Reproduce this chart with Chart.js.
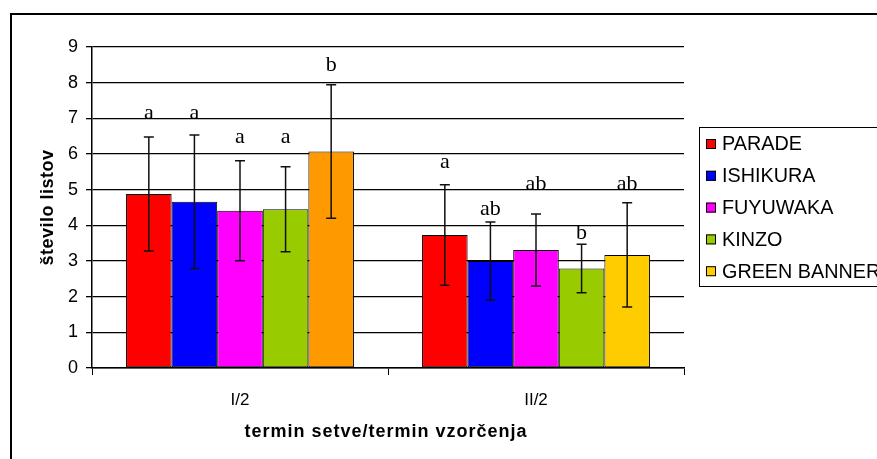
<!DOCTYPE html>
<html><head><meta charset="utf-8">
<script src="https://cdn.jsdelivr.net/npm/chart.js@4/dist/chart.umd.min.js"></script>
<style>html,body{margin:0;padding:0;background:#fff}#wrap{width:877px;height:459px}</style>
</head><body><div id="wrap"><canvas id="c" width="877" height="459"></canvas></div>
<script>
const categories = ['I/2', 'II/2'];
const seriesNames = ['PARADE', 'ISHIKURA', 'FUYUWAKA', 'KINZO', 'GREEN BANNER'];
const parade = [4.88, 3.73];
const ishikura = [4.66, 3.00];
const fuyuwaka = [4.41, 3.31];
const kinzo = [4.45, 2.79];
const greenBanner = [6.07, 3.17];
const paradeSd = [1.60, 1.41];
const ishikuraSd = [1.87, 1.09];
const fuyuwakaSd = [1.40, 1.01];
const kinzoSd = [1.19, 0.68];
const greenBannerSd = [1.87, 1.46];
const paradeLetters = ['a', 'a'];
const ishikuraLetters = ['a', 'ab'];
const fuyuwakaLetters = ['a', 'ab'];
const kinzoLetters = ['a', 'b'];
const greenBannerLetters = ['b', 'ab'];
// vertical position of each letter, in axis units
const paradeLetterAt = [7.13, 5.76];
const ishikuraLetterAt = [7.13, 4.44];
const fuyuwakaLetterAt = [6.46, 5.14];
const kinzoLetterAt = [6.46, 3.77];
const greenBannerLetterAt = [8.50, 5.14];
const yTicks = [0,1,2,3,4,5,6,7,8,9];

const colors = ['#FF0000', '#0000FF', '#FF00FF', '#99CC00', ['#FF9900', '#FFCC00']];
const legendColors = ['#FF0000', '#0000FF', '#FF00FF', '#99CC00', '#FFCC00'];
const values = [parade, ishikura, fuyuwaka, kinzo, greenBanner];
const sds = [paradeSd, ishikuraSd, fuyuwakaSd, kinzoSd, greenBannerSd];
const letters = [paradeLetters, ishikuraLetters, fuyuwakaLetters, kinzoLetters, greenBannerLetters];
const letterAt = [paradeLetterAt, ishikuraLetterAt, fuyuwakaLetterAt, kinzoLetterAt, greenBannerLetterAt];

const datasets = seriesNames.map((n, i) => ({
  label: n, data: values[i], backgroundColor: colors[i],
  borderColor: '#000', borderWidth: 1, borderSkipped: false,
  barPercentage: 1, categoryPercentage: 0.77
}));

const extras = {
  id: 'extras',
  beforeDraw(chart) {
    const ctx = chart.ctx;
    ctx.save();
    ctx.fillStyle = '#fff';
    ctx.fillRect(0, 0, chart.width, chart.height);
    ctx.strokeStyle = '#000';
    ctx.lineWidth = 2;
    ctx.strokeRect(11, 14, 1000, 1000);
    ctx.restore();
  },
  afterDatasetsDraw(chart) {
    const ctx = chart.ctx;
    const ys = chart.scales.y;
    ctx.save();
    chart.data.datasets.forEach((ds, i) => {
      const meta = chart.getDatasetMeta(i);
      meta.data.forEach((bar, j) => {
        const v = values[i][j], s = sds[i][j];
        const yt = ys.getPixelForValue(v + s), yb = ys.getPixelForValue(v - s);
        ctx.strokeStyle = '#111';
        ctx.lineWidth = 1.5;
        ctx.beginPath();
        ctx.moveTo(bar.x, yt); ctx.lineTo(bar.x, yb);
        ctx.moveTo(bar.x - 5, yt); ctx.lineTo(bar.x + 5, yt);
        ctx.moveTo(bar.x - 5, yb); ctx.lineTo(bar.x + 5, yb);
        ctx.stroke();
        ctx.fillStyle = '#000';
        ctx.font = '22px "Liberation Serif", "Times New Roman", serif';
        ctx.textAlign = 'center';
        ctx.textBaseline = 'middle';
        ctx.fillText(letters[i][j], bar.x, ys.getPixelForValue(letterAt[i][j]));
      });
    });
    // axis titles
    ctx.fillStyle = '#000';
    ctx.font = 'bold 18px "Liberation Sans", Arial, sans-serif';
    ctx.textAlign = 'center';
    ctx.textBaseline = 'middle';
    const ca = chart.chartArea;
    ctx.letterSpacing = '1px';
    ctx.fillText('termin setve/termin vzorčenja', 386, 432);
    ctx.letterSpacing = '0.5px';
    ctx.save();
    ctx.translate(48, (ca.top + ca.bottom) / 2);
    ctx.rotate(-Math.PI / 2);
    ctx.fillText('število listov', 0, 0);
    ctx.restore();
    ctx.letterSpacing = '0px';
    // legend
    ctx.strokeStyle = '#000';
    ctx.lineWidth = 1;
    ctx.strokeRect(699.5, 127.5, 400, 159);
    ctx.font = '19.8px "Liberation Sans", Arial, sans-serif';
    ctx.textAlign = 'left';
    seriesNames.forEach((n, i) => {
      const cy = 144 + i * 31.8;
      ctx.fillStyle = legendColors[i];
      ctx.fillRect(706, cy - 5, 10, 10);
      ctx.strokeRect(706.5, cy - 4.5, 9, 9);
      ctx.fillStyle = '#000';
      ctx.fillText(n, 722, cy + 1);
    });
    ctx.restore();
  }
};

new Chart(document.getElementById('c'), {
  type: 'bar',
  data: { labels: categories, datasets },
  options: {
    responsive: false, animation: false, devicePixelRatio: 1,
    layout: { padding: { left: 0, top: 47, right: 193, bottom: 0 } },
    plugins: { legend: { display: false }, tooltip: { enabled: false } },
    scales: {
      x: {
        afterFit: s => { s.height = 91; },
        grid: { offset: true, drawOnChartArea: false, drawTicks: true, tickLength: 7, color: '#000', lineWidth: 1 },
        border: { display: true, color: '#000', width: 1.5 },
        ticks: { color: '#000', padding: 15, font: { family: '"Liberation Sans", Arial, sans-serif', size: 17 } }
      },
      y: {
        min: 0, max: 9,
        afterFit: s => { s.width = 92; },
        afterBuildTicks: s => { s.ticks = yTicks.map(v => ({ value: v })); },
        grid: { color: '#000', lineWidth: 1.3, drawTicks: true, tickLength: 6 },
        border: { display: true, color: '#000', width: 1.5 },
        ticks: { color: '#000', padding: 8, font: { family: '"Liberation Sans", Arial, sans-serif', size: 18 } }
      }
    }
  },
  plugins: [extras]
});
</script>
</body></html>
